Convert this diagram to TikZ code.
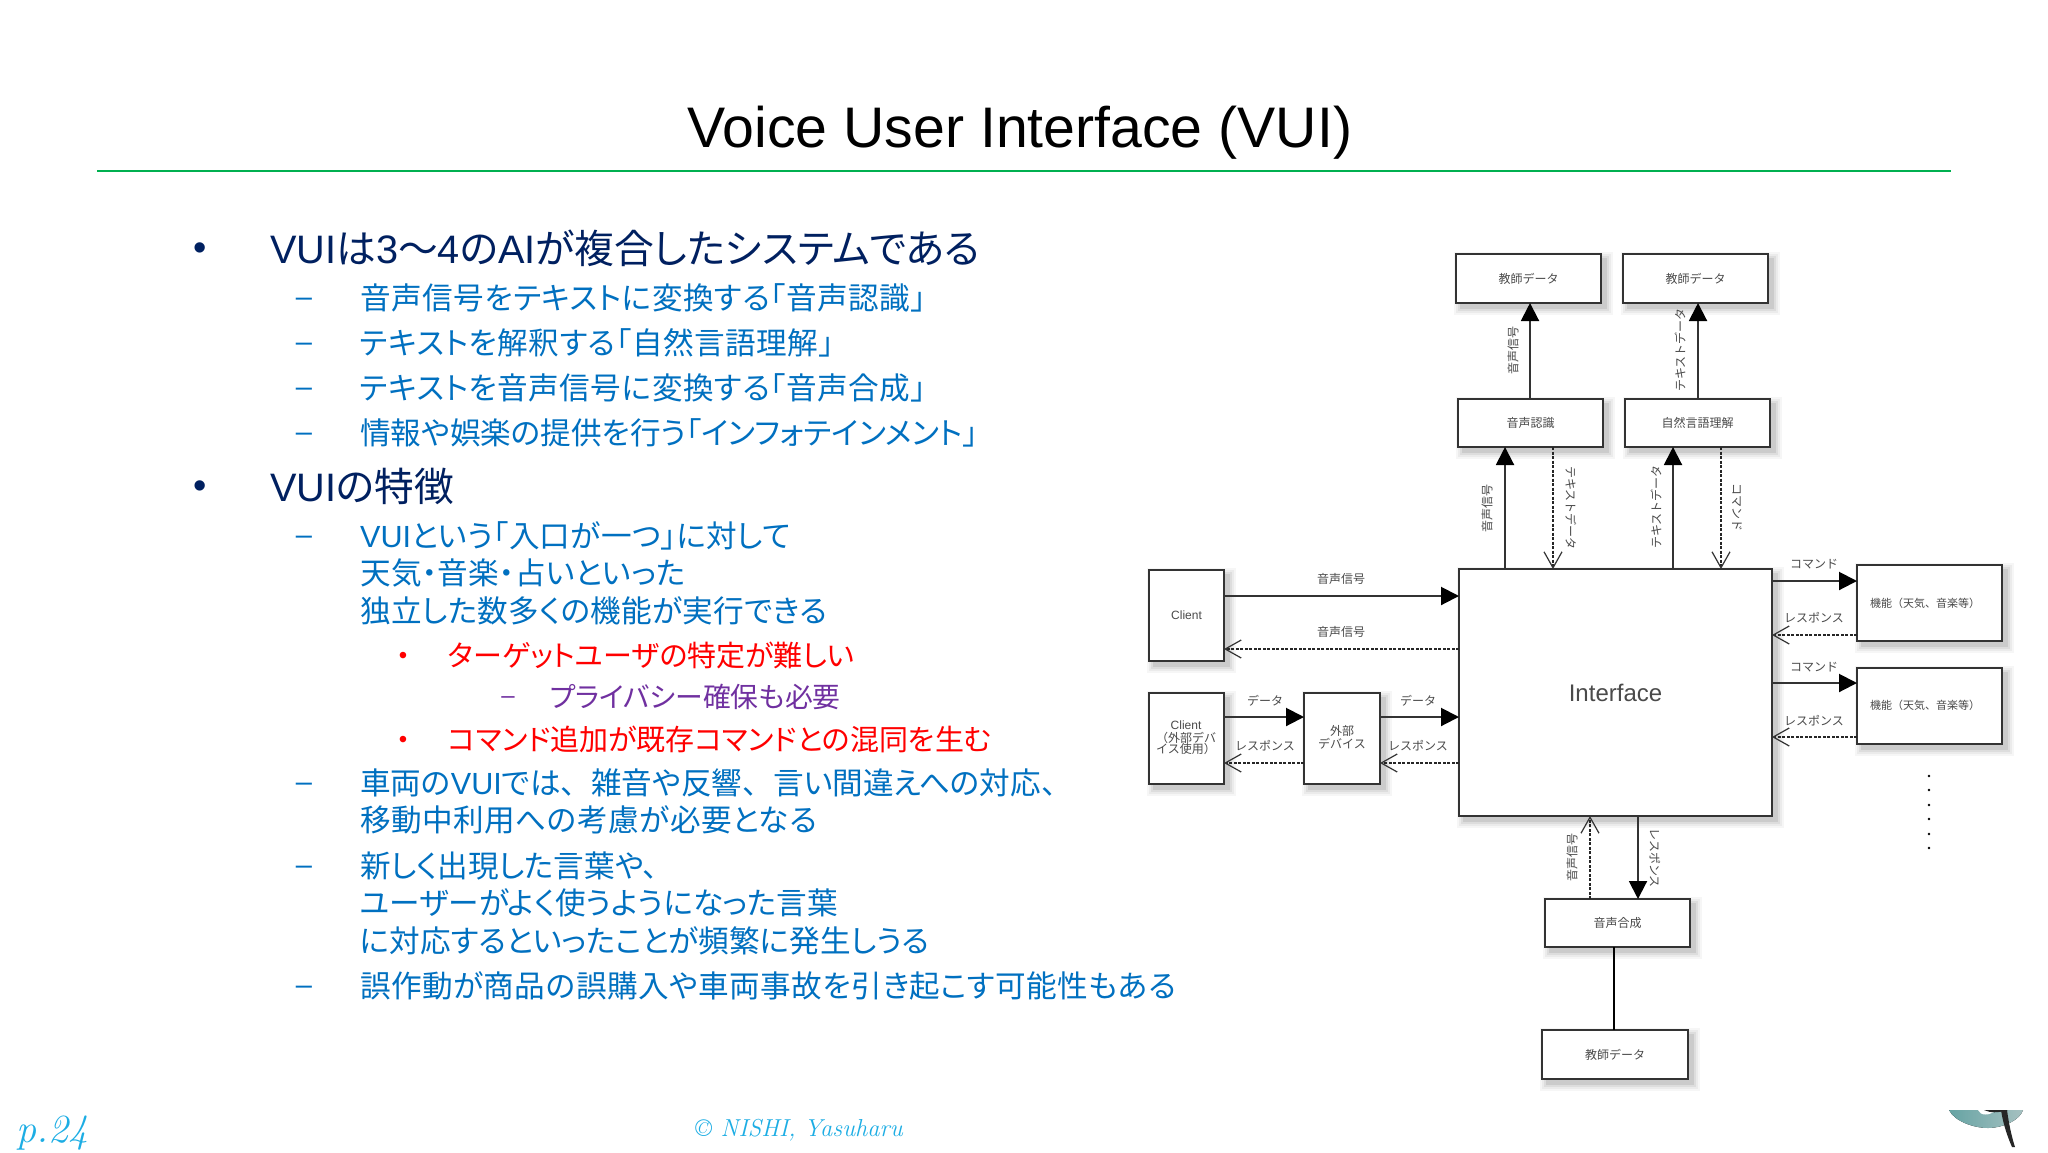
\documentclass[tikz,border=0pt]{standalone}
\usepackage{fontspec}
\usetikzlibrary{arrows.meta}
\newfontfamily\jp{Noto Sans CJK JP}
\newfontfamily\jpp{Noto Sans CJK JP}[RawFeature={+palt}]
\newfontfamily\ar{Liberation Sans}
\newcommand{\fs}[1]{\fontsize{#1pt}{#1pt}\selectfont}
\newcommand{\la}[1]{{\ar #1}}
\newcommand{\trk}[1]{\addfontfeature{LetterSpace=#1}}
\newcommand{\cm}{{\jp 、}}
\definecolor{navy}{HTML}{002060}
\definecolor{bluet}{HTML}{0070C0}
\definecolor{purp}{HTML}{7030A0}
\definecolor{cyanf}{HTML}{1CADE4}
\definecolor{ink}{HTML}{333333}
\definecolor{lab}{HTML}{4A4A4A}
\definecolor{rule}{HTML}{00B050}
% soft shadow + box node:  name, x1, y1, x2, y2, text
\newcommand{\dbox}[6]{%
  \foreach \ee/\oo in {7/.035,5/.045,3/.06,1/.08}{%
    \fill[black,opacity=\oo] ({#2+5-\ee},{#3+5-\ee}) rectangle ({#4+5+\ee},{#5+5+\ee});}
  \pgfmathsetmacro{\bcx}{(#2+#4)/2}\pgfmathsetmacro{\bcy}{(#3+#5)/2}
  \pgfmathsetmacro{\bw}{#4-#2}\pgfmathsetmacro{\bh}{#5-#3}
  \node[boxn,minimum width=\bw pt,minimum height=\bh pt] (#1) at (\bcx,\bcy) {#6};}
\tikzset{
  boxn/.style={draw=ink,line width=2pt,fill=white,inner sep=0pt,outer sep=0pt,text=lab,font=\jp\fs{12},align=center},
  flow/.style={draw=ink,line width=2pt,-{Triangle[length=18pt,width=18pt,color=black]},shorten >=0pt},
  back/.style={draw=black!85,line width=1.8pt,dash pattern=on 3pt off 1.5pt,-{Straight Barb[length=16pt,width=18pt,line width=1.2pt,color=ink]}},
  lbl/.style={text=lab,font=\jp\fs{12},inner sep=0pt},
  lup/.style={lbl,rotate=90},
  ldn/.style={lbl,rotate=-90},
  one/.style={anchor=west,inner sep=0pt,text=navy,font=\jpp\fs{39.7}},
  two/.style={anchor=west,inner sep=0pt,text=bluet,font=\jpp\fs{30.6}},
  three/.style={anchor=west,inner sep=0pt,text=red,font=\jpp\fs{29}},
  four/.style={anchor=west,inner sep=0pt,text=purp,font=\jpp\fs{27.8}},
  mk/.style={anchor=center,inner sep=0pt,font=\ar\fs{29}},
}
\begin{document}
\begin{tikzpicture}[x=1pt,y=-1pt]
\useasboundingbox (0,0) rectangle (2048,1152);
\fill[white] (0,0) rectangle (2048,1152);
% title
\node[inner sep=0pt,text=black,font=\ar\fs{57.2}] (title) at (1020,133) {Voice User Interface (VUI)};
\coordinate (ruleL) at (97,171);\coordinate (ruleR) at (1951,171);
\draw[rule,line width=2.4pt] (ruleL) -- (ruleR);
% text
\node[mk,text=navy,font=\ar\fs{38}] (b1) at (200,252) {•};
\node[one] (t1) at (270,248) {\la{VUI}は\la{3}〜\la{4}の\la{AI}が複合したシステムである};
\node[mk,text=bluet] (d1) at (304,302) {–};
\node[two] (t2) at (360,298) {\trk{1.7}音声信号をテキストに変換する「音声認識」};
\node[mk,text=bluet] (d2) at (304,347) {–};
\node[two] (t3) at (360,343) {\trk{1.8}テキストを解釈する「自然言語理解」};
\node[mk,text=bluet] (d3) at (304,392) {–};
\node[two] (t4) at (360,388) {\trk{1.7}テキストを音声信号に変換する「音声合成」};
\node[mk,text=bluet] (d4) at (304,437) {–};
\node[two] (t5) at (360,433) {情報や娯楽の提供を行う「インフォテインメント」};
\node[mk,text=navy,font=\ar\fs{38}] (b2) at (200,490) {•};
\node[one] (t6) at (270,486) {\la{VUI}の特徴};
\node[mk,text=bluet] (d5) at (304,540) {–};
\node[two] (t7) at (360,536) {\trk{1}\la{VUI}という「入口が一つ」に対して};
\node[two] (t8) at (360,573) {\trk{1}天気・音楽・占いといった};
\node[two] (t9) at (360,611) {\trk{1}独立した数多くの機能が実行できる};
\node[mk,text=red,font=\ar\fs{24}] (b3) at (403,658) {•};
\node[three] (t10) at (448,655) {ターゲットユーザの特定が難しい};
\node[mk,text=purp,font=\ar\fs{24}] (d6) at (508,700) {–};
\node[four] (t11) at (550,697) {プライバシー確保も必要};
\node[mk,text=red,font=\ar\fs{24}] (b4) at (403,742) {•};
\node[three] (t12) at (448,739) {コマンド追加が既存コマンドとの混同を生む};
\node[mk,text=bluet] (d7) at (304,787) {–};
\node[two] (t13) at (360,783) {車両の\la{VUI}では\cm 雑音や反響\cm 言い間違えへの対応\cm};
\node[two] (t14) at (360,820) {\trk{1.7}移動中利用への考慮が必要となる};
\node[mk,text=bluet] (d8) at (304,870) {–};
\node[two] (t15) at (360,866) {新しく出現した言葉や、};
\node[two] (t16) at (360,903) {ユーザーがよく使うようになった言葉};
\node[two] (t17) at (360,941) {に対応するといったことが頻繁に発生しうる};
\node[mk,text=bluet] (d9) at (304,990) {–};
\node[two] (t18) at (360,986) {\trk{1.6}誤作動が商品の誤購入や車両事故を引き起こす可能性もある};
% boxes
\dbox{tr1}{1456}{254}{1601}{303}{教師データ}
\dbox{tr2}{1623}{254}{1768}{303}{教師データ}
\dbox{asr}{1458}{399}{1603}{447}{音声認識}
\dbox{nlu}{1625}{399}{1770}{447}{自然言語理解}
\dbox{ifc}{1459}{569}{1772}{816}{\ar\fs{24}Interface}
\dbox{cl1}{1149}{570}{1224}{661}{\ar Client}
\dbox{cl2}{1149}{693}{1224}{784}{}
\dbox{ext}{1304}{693}{1380}{784}{}
\dbox{fn1}{1857}{565}{2002}{641}{}
\dbox{fn2}{1857}{668}{2002}{744}{}
\dbox{tts}{1545}{899}{1690}{947}{音声合成}
\dbox{tr3}{1542}{1030}{1688}{1079}{教師データ}
% texts inside boxes set apart for their tight leading
\node[lbl] (c2a) at (1186,725) {\ar Client};
\node[lbl] (c2b) at (1186,738) {（外部デバ};
\node[lbl] (c2c) at (1186,749) {イス使用）};
\node[lbl] (e1) at (1342,731) {外部};
\node[lbl] (e2) at (1342,744) {デバイス};
\node[lbl,font=\jp\fs{11}] (f1t) at (1925,603) {機能（天気、音楽等）};
\node[lbl,font=\jp\fs{11}] (f2t) at (1925,705) {機能（天気、音楽等）};
% connectors
\draw[flow] (asr.north -| 1530,0) -- (tr1.south -| 1530,0);
\draw[flow] (nlu.north -| 1698,0) -- (tr2.south -| 1698,0);
\draw[flow] (ifc.north -| 1505,0) -- (asr.south -| 1505,0);
\draw[back] (asr.south -| 1553,0) -- (ifc.north -| 1553,0);
\draw[flow] (ifc.north -| 1673,0) -- (nlu.south -| 1673,0);
\draw[back] (nlu.south -| 1721,0) -- (ifc.north -| 1721,0);
\draw[flow] (cl1.east |- 0,596) -- (ifc.west |- 0,596);
\draw[back] (ifc.west |- 0,649) -- (cl1.east |- 0,649);
\draw[flow] (cl2.east |- 0,717) -- (ext.west |- 0,717);
\draw[back] (ext.west |- 0,763) -- (cl2.east |- 0,763);
\draw[flow] (ext.east |- 0,717) -- (ifc.west |- 0,717);
\draw[back] (ifc.west |- 0,763) -- (ext.east |- 0,763);
\draw[flow] (ifc.east |- 0,581) -- (fn1.west |- 0,581);
\draw[back] (fn1.west |- 0,635) -- (ifc.east |- 0,635);
\draw[flow] (ifc.east |- 0,683) -- (fn2.west |- 0,683);
\draw[back] (fn2.west |- 0,737) -- (ifc.east |- 0,737);
\draw[back,line width=1.3pt] (tts.north -| 1590,0) -- (ifc.south -| 1590,0);
\draw[flow] (ifc.south -| 1638,0) -- (tts.north -| 1638,0);
\draw[draw=black,line width=2.6pt] (tts.south -| 1614,0) -- (tr3.north -| 1614,0);
% labels
\node[lup] (l1) at (1513,350) {音声信号};
\node[lup] (l2) at (1680,350) {テキストデータ};
\node[lup] (l3) at (1487,508) {音声信号};
\node[ldn] (l4) at (1571,508) {テキストデータ};
\node[lup] (l5) at (1656,507) {テキストデータ};
\node[ldn] (l6) at (1737,507) {コマンド};
\node[lbl] (l7) at (1341,579) {音声信号};
\node[lbl] (l8) at (1341,632) {音声信号};
\node[lbl] (l9) at (1265,701) {データ};
\node[lbl] (l10) at (1265,746) {レスポンス};
\node[lbl] (l11) at (1418,701) {データ};
\node[lbl] (l12) at (1418,746) {レスポンス};
\node[lbl] (l13) at (1814,564) {コマンド};
\node[lbl] (l14) at (1814,618) {レスポンス};
\node[lbl] (l15) at (1814,667) {コマンド};
\node[lbl] (l16) at (1814,721) {レスポンス};
\node[lup] (l17) at (1572,857) {音声信号};
\node[ldn] (l18) at (1655,858) {レスポンス};
% dots
\foreach \y in {776,790,805,819,834,848}{\fill[black] (1929,\y) circle (1.4pt);}
% footer
\node[anchor=west,inner sep=0pt,text=cyanf,font=\rmfamily\itshape\fs{40}] (pg) at (16,1133) {p.24};
\node[anchor=center,inner sep=0pt,text=cyanf,font=\rmfamily\itshape\fs{24.5}] (cp) at (799,1130) {© NISHI, Yasuharu};
% logo
\begin{scope}
\clip (1940,1110) rectangle (2030,1152);
\fill[left color=black!60!cyan!60!white,right color=cyan!30!black!35!white] (1949,1110) .. controls (1955,1122) and (1975,1128) .. (1988,1128) .. controls (2003,1128) and (2020,1120) .. (2023,1110) -- cycle;
\fill[white] (1978,1110) .. controls (1980,1116) and (1990,1116) .. (1996,1110) -- cycle;
\fill[black!85] (1984,1110) .. controls (1990,1113) and (1998,1113) .. (2008,1110) -- cycle;
\fill[black!85] (2001,1110) -- (2007,1110) .. controls (2009,1125) and (2012,1138) .. (2015,1147) -- (2012,1147) .. controls (2008,1138) and (2003,1124) .. (2001,1110) -- cycle;
\end{scope}
\end{tikzpicture}
\end{document}
